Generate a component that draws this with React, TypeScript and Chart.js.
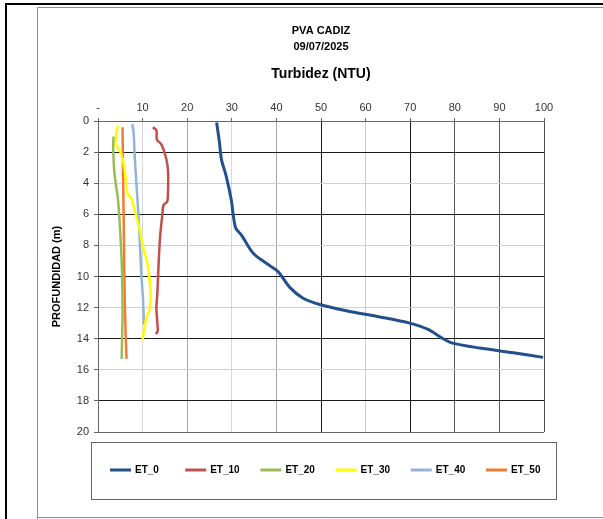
import React, { useEffect, useRef } from 'react';
import { Chart, registerables } from 'chart.js';

Chart.register(...registerables);

const TITLE_LINE_1 = 'PVA CADIZ';
const TITLE_LINE_2 = '09/07/2025';
const TITLE_LINE_3 = 'Turbidez (NTU)';
const Y_TITLE = 'PROFUNDIDAD (m)';

const SERIES_NAMES = ['ET_0', 'ET_10', 'ET_20', 'ET_30', 'ET_40', 'ET_50'];

// depth (m) / turbidity (NTU) pairs
const ET_0_DEPTH = [0.1, 1.3, 2.5, 3.5, 5.1, 6.0, 6.9, 7.35, 8.5, 9.3, 9.7, 10.7, 11.4, 11.8, 12.2, 12.6, 13.0, 13.4, 14.0, 14.3, 14.6, 14.9, 15.2];
const ET_0_NTU = [26.6, 27.2, 27.7, 28.7, 29.9, 30.3, 30.9, 32.2, 34.8, 38.5, 40.4, 43.0, 46.0, 49.7, 55.7, 63.2, 69.9, 74.0, 77.4, 79.7, 85.6, 93.1, 99.8];

const ET_10_DEPTH = [0.4, 0.6, 1.2, 1.5, 2.3, 3.2, 4.5, 5.2, 5.4, 6.1, 7.2, 8.5, 9.8, 11.1, 12.0, 13.0, 13.5, 13.7];
const ET_10_NTU = [12.3, 13.1, 13.2, 14.2, 15.2, 15.7, 15.7, 15.5, 14.7, 14.4, 14.0, 13.7, 13.5, 13.3, 13.1, 13.3, 13.4, 13.0];

const ET_20_DEPTH = [1.0, 1.65, 3.4, 5.1, 7.2, 9.8, 12.4, 15.3];
const ET_20_NTU = [3.5, 3.4, 3.7, 4.5, 5.0, 5.4, 5.5, 5.3];

const ET_30_DEPTH = [0.3, 0.8, 1.3, 1.45, 1.65, 2.1, 3.2, 4.2, 4.7, 5.0, 5.7, 6.8, 8.1, 9.2, 10.3, 11.1, 12.1, 12.6, 13.5, 14.1];
const ET_30_NTU = [4.5, 4.1, 4.0, 3.6, 4.3, 5.2, 6.0, 6.4, 6.7, 7.5, 8.2, 9.2, 10.1, 11.1, 11.6, 11.8, 11.6, 10.9, 10.3, 10.0];

const ET_40_DEPTH = [0.2, 0.8, 2.1, 4.0, 5.7, 7.9, 9.8, 11.5, 13.1];
const ET_40_NTU = [7.7, 8.0, 8.2, 8.6, 9.0, 9.4, 9.7, 10.1, 10.3];

const ET_50_DEPTH = [0.4, 2.9, 7.2, 11.5, 13.7, 15.3];
const ET_50_NTU = [5.5, 5.6, 5.8, 6.0, 6.2, 6.4];

const SERIES_DEPTHS = [ET_0_DEPTH, ET_10_DEPTH, ET_20_DEPTH, ET_30_DEPTH, ET_40_DEPTH, ET_50_DEPTH];
const SERIES_NTU = [ET_0_NTU, ET_10_NTU, ET_20_NTU, ET_30_NTU, ET_40_NTU, ET_50_NTU];

const X_MIN = 0;
const X_MAX = 100;
const X_STEP = 10;
const Y_MIN = 0;
const Y_MAX = 20;
const Y_STEP = 2;

// styles
const SERIES_COLORS = ['#234f8c', '#c0504d', '#9bbb59', '#ffff00', '#95b3d7', '#ee7d31'];
const X_GRID_COLORS = ['#666666', '#d9d9d9', '#a6a6a6', '#d9d9d9', '#a6a6a6', '#1a1a1a', '#cccccc', '#1a1a1a', '#595959', '#595959', '#4d4d4d'];
const Y_GRID_COLORS = ['#666666', '#1a1a1a', '#d0d0d0', '#1a1a1a', '#d0d0d0', '#1a1a1a', '#d0d0d0', '#1a1a1a', '#d0d0d0', '#1a1a1a', '#666666'];

const FONT = "'Liberation Sans', Arial, sans-serif";
const W = 603;
const H = 519;

const framePlugin = {
  id: 'framePlugin',
  beforeDraw(chart: any) {
    const ctx = chart.ctx as CanvasRenderingContext2D;
    ctx.save();
    ctx.fillStyle = '#ffffff';
    ctx.fillRect(0, 0, W, H);
    ctx.fillStyle = '#000000';
    ctx.fillRect(5, 3, W - 5, 2);
    ctx.fillRect(5, 3, 2, H - 3);
    ctx.strokeStyle = '#8c8c8c';
    ctx.lineWidth = 1;
    ctx.beginPath();
    ctx.moveTo(37.5, H);
    ctx.lineTo(37.5, 7.5);
    ctx.lineTo(W, 7.5);
    ctx.moveTo(37.5, 517.5);
    ctx.lineTo(W, 517.5);
    ctx.stroke();
    ctx.restore();
  },
  afterDraw(chart: any) {
    const ctx = chart.ctx as CanvasRenderingContext2D;
    const area = chart.chartArea;
    const cx = (area.left + area.right) / 2;
    ctx.save();
    ctx.fillStyle = '#000000';
    ctx.textAlign = 'center';
    ctx.textBaseline = 'middle';
    ctx.font = `bold 11px ${FONT}`;
    ctx.fillText(TITLE_LINE_1, cx, 31);
    ctx.fillText(TITLE_LINE_2, cx, 47);
    ctx.font = `bold 14px ${FONT}`;
    ctx.fillText(TITLE_LINE_3, cx, 74);

    // legend box
    ctx.strokeStyle = '#666666';
    ctx.lineWidth = 1;
    ctx.strokeRect(91.5, 442.5, 465, 57);
    ctx.font = `bold 10px ${FONT}`;
    ctx.textAlign = 'left';
    const ly = 470;
    chart.data.datasets.forEach((ds: any, i: number) => {
      const x0 = 110 + i * 75.2;
      ctx.strokeStyle = ds.borderColor;
      ctx.lineWidth = 3;
      ctx.beginPath();
      ctx.moveTo(x0, ly);
      ctx.lineTo(x0 + 21, ly);
      ctx.stroke();
      ctx.fillStyle = '#000000';
      ctx.fillText(ds.label, x0 + 25, ly + 0.5);
    });
    ctx.restore();
  },
};

export default function App() {
  const canvasRef = useRef<HTMLCanvasElement | null>(null);

  useEffect(() => {
    if (!canvasRef.current) return;
    const datasets = SERIES_NAMES.map((name, i) => ({
      label: name,
      data: SERIES_DEPTHS[i].map((d, k) => ({ x: SERIES_NTU[i][k], y: d })),
      borderColor: SERIES_COLORS[i],
      backgroundColor: SERIES_COLORS[i],
      borderWidth: i === 0 ? 3 : 2.5,
      pointRadius: 0,
      showLine: true,
      tension: 0.3,
      fill: false,
    }));

    const chart = new Chart(canvasRef.current, {
      type: 'scatter',
      data: { datasets },
      options: {
        animation: false,
        responsive: false,
        devicePixelRatio: 1,
        layout: { padding: { left: 37, top: 0, right: 59, bottom: 87 } },
        plugins: {
          legend: { display: false },
          title: { display: false },
          tooltip: { enabled: false },
        },
        scales: {
          x: {
            type: 'linear',
            position: 'top',
            min: X_MIN,
            max: X_MAX,
            ticks: {
              stepSize: X_STEP,
              color: '#333333',
              font: { family: FONT, size: 11 },
              padding: 3,
              maxRotation: 0,
              callback: (v: any) => (Number(v) === 0 ? '-' : String(v)),
            },
            grid: {
              color: (c: any) => X_GRID_COLORS[c.index] ?? '#999999',
              lineWidth: 1,
              drawTicks: true,
              tickLength: 3,
              tickColor: '#666666',
            },
            border: { display: true, color: '#666666', width: 1 },
            afterFit: (s: any) => {
              s.height = 121;
            },
          },
          y: {
            type: 'linear',
            position: 'left',
            reverse: true,
            min: Y_MIN,
            max: Y_MAX,
            ticks: {
              stepSize: Y_STEP,
              color: '#333333',
              font: { family: FONT, size: 11 },
              padding: 5,
            },
            grid: {
              color: (c: any) => Y_GRID_COLORS[c.index] ?? '#999999',
              lineWidth: 1,
              drawTicks: true,
              tickLength: 4,
              tickColor: '#666666',
            },
            border: { display: true, color: '#666666', width: 1 },
            title: {
              display: true,
              text: Y_TITLE,
              color: '#000000',
              font: { family: FONT, size: 11, weight: 'bold' },
              padding: { top: 13, bottom: 0 },
            },
            afterFit: (s: any) => {
              s.width = 61;
            },
          },
        },
      },
      plugins: [framePlugin],
    } as any);

    return () => chart.destroy();
  }, []);

  return (
    <div style={{ position: 'fixed', left: 0, top: 0, width: W, height: H, background: '#fff' }}>
      <canvas ref={canvasRef} width={W} height={H} style={{ display: 'block', width: W, height: H }} />
    </div>
  );
}
